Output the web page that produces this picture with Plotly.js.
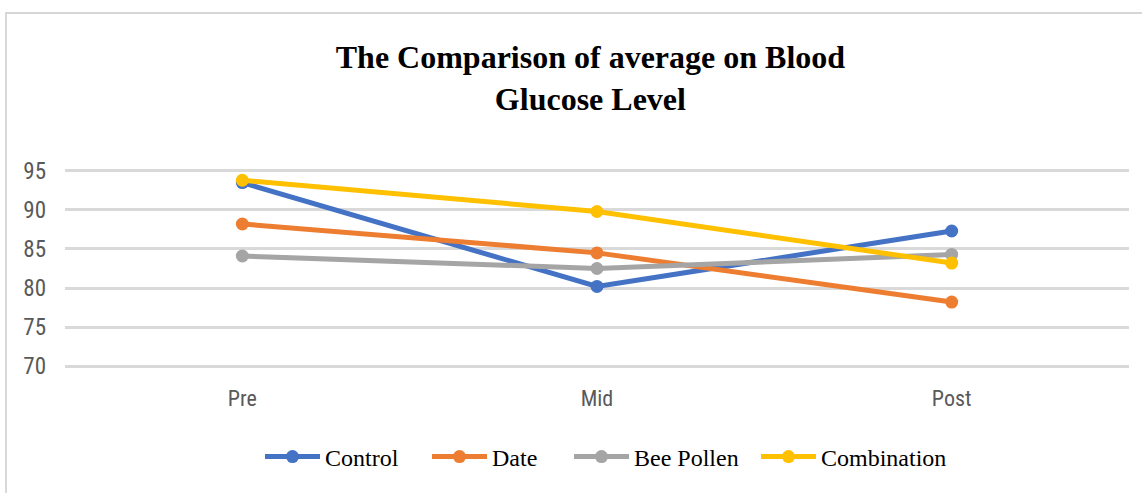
<!DOCTYPE html>
<html>
<head>
<meta charset="utf-8">
<script src="https://cdn.plot.ly/plotly-3.0.1.min.js"></script>
<style>
  html, body { margin: 0; padding: 0; background: #ffffff; }
  #wrap { position: relative; width: 1142px; height: 493px; overflow: hidden; }
  #chart { position: absolute; left: 0; top: 0; width: 1142px; height: 493px; }
  #frame { position: absolute; left: 5px; top: 12px; width: 1150px; height: 500px;
           border-top: 2px solid #d6d6d6; border-left: 2px solid #d9d9d9; pointer-events: none; }
</style>
</head>
<body>
<div id="wrap">
  <div id="chart"></div>
  <div id="frame"></div>
</div>
<script>
const categories = ["Pre", "Mid", "Post"];
const seriesNames = ["Control", "Date", "Bee Pollen", "Combination"];
const control = [93.5, 80.2, 87.3];
const date = [88.2, 84.5, 78.2];
const beePollen = [84.1, 82.5, 84.3];
const combination = [93.8, 89.8, 83.2];
const yTicks = [70, 75, 80, 85, 90, 95];

const colors = ["#4472C4", "#ED7D31", "#A5A5A5", "#FFC000"];
const values = [control, date, beePollen, combination];
const legendIds = ["legend", "legend2", "legend3", "legend4"];
// left edge (px) of each legend entry's text in the original figure
const legendTextLeft = [325, 492, 634, 821];

const traces = values.map((v, i) => ({
  type: "scatter",
  mode: "lines+markers",
  name: seriesNames[i],
  legend: legendIds[i],
  x: categories,
  y: v,
  line: { color: colors[i], width: 5 },
  marker: { color: colors[i], size: 13 },
  hoverinfo: "x+y+name"
}));

const axisFont = "Liberation Sans Narrow, Roboto Condensed, Liberation Sans, Arial, sans-serif";
const W = 1142, H = 493;

const layout = {
  width: W,
  height: H,
  paper_bgcolor: "#ffffff",
  plot_bgcolor: "#ffffff",
  margin: { l: 64.5, r: 12.5, t: 167.1, b: 123.1 },
  title: {
    text: "<b>The Comparison of average on Blood<br>Glucose Level</b>",
    font: { family: "Liberation Serif, Times New Roman, serif", size: 32, color: "#000000" },
    x: 0.517,
    xanchor: "center",
    xref: "container",
    yref: "container",
    y: 1 - 68 / H,
    yanchor: "middle"
  },
  xaxis: {
    type: "category",
    range: [-0.5, 2.5],
    showgrid: false,
    zeroline: false,
    showline: false,
    ticks: "",
    ticklabelstandoff: 13,
    tickfont: { family: axisFont, size: 22, color: "#595959" }
  },
  yaxis: {
    range: [69.5, 95.5],
    tickvals: yTicks,
    ticktext: yTicks.map(String),
    showgrid: true,
    gridcolor: "#d9d9d9",
    gridwidth: 2.5,
    zeroline: false,
    showline: false,
    ticks: "",
    ticklabelstandoff: 18,
    tickfont: { family: axisFont, size: 23, color: "#595959" }
  },
  showlegend: true,
  hovermode: "closest"
};

legendIds.forEach((id, i) => {
  layout[id] = {
    orientation: "h",
    x: (legendTextLeft[i] - 65) / W,
    xanchor: "left",
    xref: "container",
    yref: "container",
    y: 1 - 457 / H,
    yanchor: "middle",
    bgcolor: "rgba(0,0,0,0)",
    font: { family: "Liberation Serif, Times New Roman, serif", size: 24, color: "#000000" },
    itemwidth: 55
  };
});

Plotly.newPlot("chart", traces, layout, { displayModeBar: false });
</script>
</body>
</html>
